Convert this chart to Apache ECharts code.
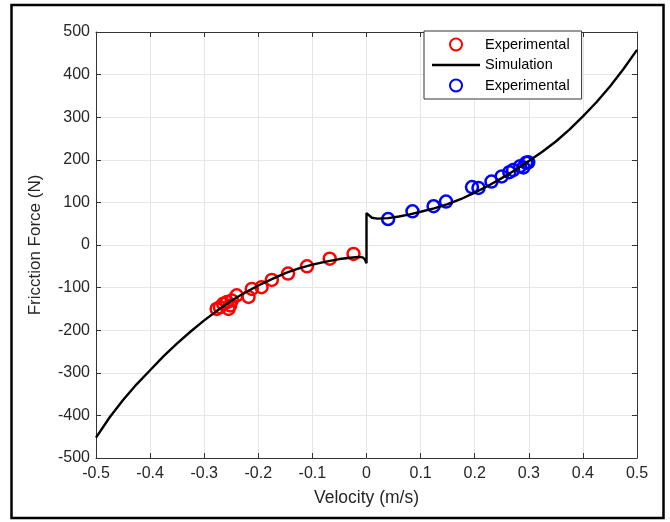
<!DOCTYPE html>
<html>
<head>
<meta charset="utf-8">
<script src="https://cdn.jsdelivr.net/npm/echarts@6/dist/echarts.min.js"></script>
<style>
  html, body { margin: 0; padding: 0; background: #fff; }
  #friction { width: 670px; height: 522px; }
</style>
</head>
<body>
<div id="friction"></div>
<script>
// Friction force vs velocity
var chart = echarts.init(document.getElementById('friction'));

// measured points, negative velocities (red)
var expNeg = [
  [-0.024, -21], [-0.068, -32], [-0.110, -50], [-0.145, -67], [-0.175, -82],
  [-0.194, -99], [-0.212, -103], [-0.218, -122], [-0.240, -118], [-0.249, -130],
  [-0.252, -142], [-0.255, -150], [-0.258, -134], [-0.265, -138], [-0.271, -146],
  [-0.277, -150]
];

// measured points, positive velocities (blue)
var expPos = [
  [0.040, 61], [0.085, 79], [0.124, 91], [0.147, 102], [0.195, 136],
  [0.207, 134], [0.231, 149], [0.250, 161], [0.264, 171], [0.271, 176],
  [0.284, 185], [0.290, 182], [0.295, 193], [0.299, 194]
];

// simulated curve, with the jump at v = 0
var simulation = [
  [-0.5, -452], [-0.475, -405], [-0.45, -364], [-0.425, -327], [-0.4, -294],
  [-0.375, -261], [-0.35, -231], [-0.325, -203], [-0.3, -177], [-0.275, -153],
  [-0.25, -131], [-0.225, -112], [-0.2, -95], [-0.175, -80], [-0.15, -66],
  [-0.125, -55], [-0.1, -46], [-0.075, -39], [-0.05, -33], [-0.03, -30],
  [-0.015, -28], [-0.007, -29], [-0.003, -34], [0, -43],
  [0, 75], [0.003, 71], [0.01, 64], [0.02, 62], [0.04, 63], [0.06, 67],
  [0.08, 72], [0.1, 78], [0.125, 86], [0.15, 96], [0.175, 108], [0.2, 123],
  [0.225, 139], [0.25, 157], [0.275, 176], [0.3, 197], [0.325, 219],
  [0.35, 243], [0.375, 271], [0.4, 302], [0.425, 335], [0.45, 372],
  [0.475, 413], [0.5, 458]
];

const font = 'Liberation Sans, Arial, sans-serif';
const axisColor = '#333';
const gridColor = '#e6e6e6';
const textColor = '#262626';

function fmtX(v){
  return Math.abs(v) < 1e-9 ? '0' : (+v.toFixed(1)).toString();
}

var option = {
  animation: false,
  backgroundColor: '#fff',
  grid: { left: 96, right: 33, top: 32, bottom: 64 },
  legend: {
    orient: 'vertical',
    left: 424,
    top: 31,
    padding: [6, 12, 6, 8],
    itemWidth: 48,
    itemHeight: 12,
    itemGap: 5.5,
    backgroundColor: '#fff',
    borderColor: '#333',
    borderWidth: 1,
    borderRadius: 0,
    textStyle: { fontFamily: font, fontSize: 14.5, color: '#000' },
    data: [
      'ExpNeg',
      { name: 'Simulation', icon: 'path://M0,0 L48,0 L48,2.4 L0,2.4 Z' },
      'ExpPos'
    ],
    formatter: function(name){
      return name === 'Simulation' ? name : 'Experimental';
    }
  },
  xAxis: [
    {
      type: 'value', min: -0.5, max: 0.5, interval: 0.1,
      name: 'Velocity (m/s)', nameLocation: 'middle', nameGap: 31,
      nameTextStyle: { fontFamily: font, fontSize: 17.5, color: textColor },
      axisLine: { onZero: false, lineStyle: { color: axisColor, width: 1 } },
      axisTick: { inside: true, length: 5, lineStyle: { color: axisColor } },
      axisLabel: { fontFamily: font, fontSize: 16, color: textColor, margin: 8, formatter: fmtX },
      splitLine: { show: true, lineStyle: { color: gridColor } }
    },
    {
      type: 'value', position: 'top', min: -0.5, max: 0.5, interval: 0.1,
      axisLine: { onZero: false, lineStyle: { color: axisColor, width: 1 } },
      axisTick: { inside: true, length: 5, lineStyle: { color: axisColor } },
      axisLabel: { show: false },
      splitLine: { show: false }
    }
  ],
  yAxis: [
    {
      type: 'value', min: -500, max: 500, interval: 100,
      name: 'Fricction Force (N)', nameLocation: 'middle', nameGap: 52,
      nameTextStyle: { fontFamily: font, fontSize: 17, color: textColor },
      axisLine: { show: true, onZero: false, lineStyle: { color: axisColor, width: 1 } },
      axisTick: { show: true, inside: true, length: 5, lineStyle: { color: axisColor } },
      axisLabel: { fontFamily: font, fontSize: 16, color: textColor, margin: 6 },
      splitLine: { show: true, lineStyle: { color: gridColor } }
    },
    {
      type: 'value', position: 'right', min: -500, max: 500, interval: 100,
      axisLine: { show: true, onZero: false, lineStyle: { color: axisColor, width: 1 } },
      axisTick: { show: true, inside: true, length: 5, lineStyle: { color: axisColor } },
      axisLabel: { show: false },
      splitLine: { show: false }
    }
  ],
  series: [
    {
      name: 'ExpNeg', type: 'scatter', data: expNeg,
      symbol: 'circle', symbolSize: 12,
      itemStyle: { color: 'rgba(255,255,255,0)', borderColor: '#ff0000', borderWidth: 2.5, opacity: 1 }
    },
    {
      name: 'Simulation', type: 'line', data: simulation,
      symbol: 'none', showSymbol: false, smooth: false,
      lineStyle: { color: '#000', width: 2.4 },
      itemStyle: { color: '#000' }
    },
    {
      name: 'ExpPos', type: 'scatter', data: expPos,
      symbol: 'circle', symbolSize: 12,
      itemStyle: { color: 'rgba(255,255,255,0)', borderColor: '#0000ff', borderWidth: 2.5, opacity: 1 }
    }
  ],
  graphic: [
    {
      type: 'rect',
      shape: { x: 11.5, y: 5, width: 652, height: 513 },
      style: { fill: 'none', stroke: '#000', lineWidth: 2.5 },
      silent: true
    }
  ]
};

chart.setOption(option);
</script>
</body>
</html>
